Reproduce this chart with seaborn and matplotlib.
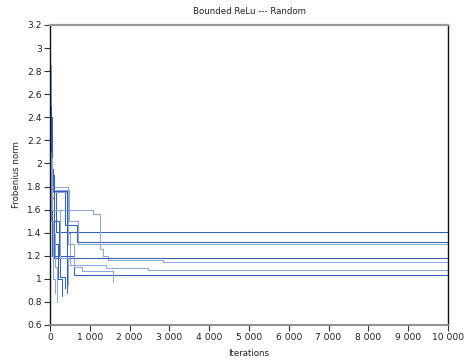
import matplotlib
matplotlib.use("Agg")
import matplotlib.pyplot as plt
from matplotlib.ticker import FuncFormatter, MultipleLocator
import seaborn as sns
import pandas as pd

# ---- data: each run is a best-so-far trace (iteration of change, norm) ----
run_iters = [
    [0, 30, 80, 150, 10000],                          # A -> 1.40
    [0, 40, 375, 670, 10000],                         # B -> 1.32
    [0, 60, 480, 700, 10000],                         # C -> 1.30
    [0, 25, 60, 100, 1080, 1250, 1330, 1450, 2840, 10000],  # D -> 1.15
    [0, 30, 90, 10000],                               # E -> 1.18
    [0, 50, 430, 500, 1400, 2460, 10000],             # F -> 1.08
    [0, 40, 230, 600, 10000],                         # G -> 1.03
    [0, 50, 460, 600, 800, 1580],                     # H short
    [0, 30, 100, 200, 300],                           # I short
    [0, 40, 120, 170],                                # J short
    [0, 60, 250, 380],                                # K short
    [0, 20, 80, 130],                                 # L short
    [0, 40, 420],                                     # M short
    [0, 60, 250, 450],                                # N short
]
run_norms = [
    [2.30, 1.95, 1.75, 1.41, 1.41],
    [2.10, 1.76, 1.47, 1.32, 1.32],
    [2.25, 1.77, 1.50, 1.30, 1.30],
    [2.85, 2.00, 1.80, 1.60, 1.56, 1.26, 1.20, 1.165, 1.15, 1.15],
    [2.00, 1.70, 1.18, 1.18],
    [2.20, 1.75, 1.40, 1.12, 1.09, 1.08, 1.08],
    [1.90, 1.50, 1.20, 1.035, 1.035],
    [2.20, 1.80, 1.30, 1.10, 1.065, 0.97],
    [2.50, 1.90, 1.30, 1.00, 0.85],
    [2.00, 1.40, 1.10, 0.80],
    [1.80, 1.20, 1.02, 0.92],
    [2.10, 1.50, 1.00, 0.88],
    [2.40, 1.76, 0.88],
    [2.05, 1.60, 1.18, 0.95],
]
run_shades = ["dark", "dark", "light", "light", "dark", "light", "dark",
              "light", "dark", "light", "dark", "light", "dark", "light"]

y_ticks = [0.6, 0.8, 1.0, 1.2, 1.4, 1.6, 1.8, 2.0, 2.2, 2.4, 2.6, 2.8, 3.0, 3.2]
x_ticks = list(range(0, 10001, 1000))

rows = []
for i, (its, vals) in enumerate(zip(run_iters, run_norms)):
    for it, v in zip(its, vals):
        rows.append({"run": i, "iter": it, "norm": v})
df = pd.DataFrame(rows)

shade_color = {"dark": "#3560b4", "light": "#8ba7db"}
palette = [shade_color[s] for s in run_shades]

sns.set_style("white")
plt.rcParams["font.family"] = ["DejaVu Sans"]

fig = plt.figure(figsize=(4.65, 3.63), dpi=100)
ax = fig.add_axes([50 / 465, 1 - 325 / 363, 398 / 465, 300 / 363])

sns.lineplot(data=df, x="iter", y="norm", hue="run", units="run",
             estimator=None, palette=palette, drawstyle="steps-post",
             linewidth=0.75, legend=False, ax=ax)

ax.set_xlim(0, 10000)
ax.set_ylim(0.6, 3.2)
ax.set_xticks(x_ticks)
ax.set_yticks(y_ticks)
ax.xaxis.set_minor_locator(MultipleLocator(500))
ax.yaxis.set_minor_locator(MultipleLocator(0.1))
ax.xaxis.set_major_formatter(FuncFormatter(lambda v, p: f"{int(v):,}".replace(",", " ")))
ax.yaxis.set_major_formatter(FuncFormatter(lambda v, p: f"{v:.1f}".rstrip("0").rstrip(".")))

ax.tick_params(axis="both", which="major", direction="out", length=4, width=0.8,
               labelsize=6.6, color="#333333", labelcolor="#222222", pad=2)
ax.tick_params(axis="both", which="minor", direction="out", length=2, width=0.6,
               color="#666666")
ax.tick_params(axis="x", bottom=True)
ax.tick_params(axis="y", left=True)

for side, col, lw in [("top", "#9a9a9a", 1.6), ("right", "#111111", 1.0),
                      ("left", "#111111", 1.0), ("bottom", "#888888", 1.3)]:
    ax.spines[side].set_color(col)
    ax.spines[side].set_linewidth(lw)
    ax.spines[side].set_zorder(5)

ax.set_xlabel("Iterations", fontsize=6.2, color="#222222", labelpad=5)
ax.set_ylabel("Frobenius norm", fontsize=6.2, color="#222222", labelpad=4)
ax.set_title("Bounded ReLu --- Random", fontsize=6.2, color="#222222", pad=8)

fig.savefig("out.png", dpi=100)
